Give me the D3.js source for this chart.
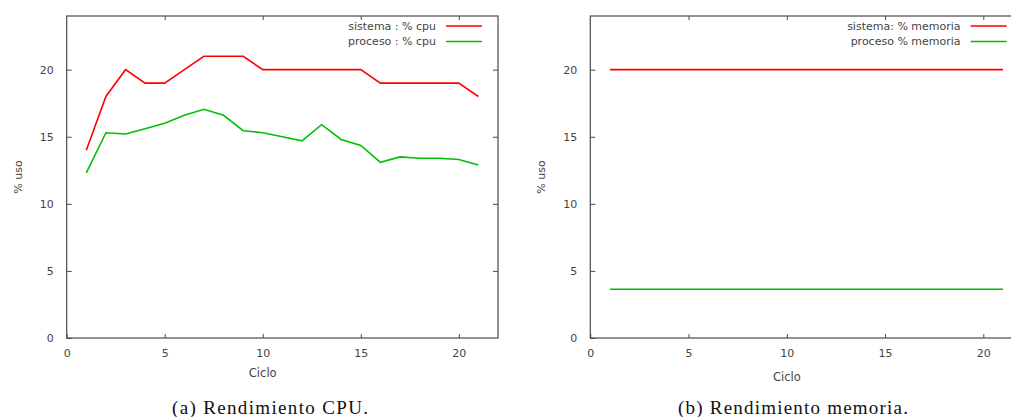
<!DOCTYPE html>
<html>
<head>
<meta charset="utf-8">
<script src="https://cdn.jsdelivr.net/npm/d3@7"></script>
<style>
  body { margin: 0; background: #fff; }
  svg text { font-family: "DejaVu Sans", sans-serif; }
</style>
</head>
<body>
<svg id="chart" width="1011" height="417"></svg>
<script>
// ciclos medidos
const ciclos = [1, 2, 3, 4, 5, 6, 7, 8, 9, 10, 11, 12, 13, 14, 15, 16, 17, 18, 19, 20, 21];

// rendimiento cpu
const sistemaCpu = [14, 18, 20, 19, 19, 20, 21, 21, 21, 20, 20, 20, 20, 20, 20, 19, 19, 19, 19, 19, 18];
const procesoCpu = [12.3, 15.3, 15.2, 15.6, 16.0, 16.6, 17.05, 16.6, 15.45, 15.3, 15.0, 14.7, 15.9, 14.8, 14.35, 13.1, 13.5, 13.4, 13.4, 13.3, 12.9];

// rendimiento memoria
const sistemaMem = [20, 20, 20, 20, 20, 20, 20, 20, 20, 20, 20, 20, 20, 20, 20, 20, 20, 20, 20, 20, 20];
const procesoMem = [3.63, 3.63, 3.63, 3.63, 3.63, 3.63, 3.63, 3.63, 3.63, 3.63, 3.63, 3.63, 3.63, 3.63, 3.63, 3.63, 3.63, 3.63, 3.63, 3.63, 3.63];

const xTicks = [0, 5, 10, 15, 20];
const yTicks = [0, 5, 10, 15, 20];

const svg = d3.select("#chart");
const frameColor = "#4a4a4a";
const textColor = "#444";
const plotTop = 16, plotBottom = 338;

function drawPanel(p) {
  const x = d3.scaleLinear().domain([0, 22]).range([p.left, p.right]);
  const y = d3.scaleLinear().domain([0, 24]).range([plotBottom, plotTop]);
  const g = svg.append("g");

  // ticks hacia dentro, estilo gnuplot
  const axes = [
    [d3.axisBottom(x).tickValues(xTicks).tickSize(-4).tickPadding(11), `translate(0,${plotBottom})`],
    [d3.axisTop(x).tickValues(xTicks.slice(1)).tickSize(-4).tickFormat(""), `translate(0,${plotTop})`],
    [d3.axisLeft(y).tickValues(yTicks).tickSize(-5).tickPadding(13), `translate(${p.left},0)`],
    [d3.axisRight(y).tickValues(yTicks.slice(1)).tickSize(-5).tickFormat(""), `translate(${p.right},0)`]
  ];
  axes.forEach(([axis, tr]) => {
    const a = g.append("g").attr("transform", tr).call(axis);
    a.select(".domain").remove();
    a.selectAll("line").attr("stroke", frameColor);
    a.selectAll("text").attr("fill", textColor).style("font-size", "11px")
      .style("font-family", "DejaVu Sans, sans-serif");
  });

  g.append("rect")
    .attr("x", p.left).attr("y", plotTop)
    .attr("width", p.right - p.left).attr("height", plotBottom - plotTop)
    .attr("fill", "none").attr("stroke", frameColor).attr("stroke-width", 1.2);

  const line = d3.line().x((d, i) => x(ciclos[i])).y(d => y(d));
  p.series.forEach(s => {
    g.append("path").datum(s.values)
      .attr("d", line)
      .attr("fill", "none")
      .attr("stroke", s.color)
      .attr("stroke-width", 1.6);
  });

  // leyenda
  p.series.forEach((s, i) => {
    const ly = 26 + i * 15.5;
    g.append("text")
      .attr("x", p.right - 62).attr("y", ly).attr("dy", "0.35em")
      .attr("text-anchor", "end")
      .attr("fill", textColor).style("font-size", "11px")
      .text(s.label);
    g.append("line")
      .attr("x1", p.right - 52).attr("x2", p.right - 16)
      .attr("y1", ly).attr("y2", ly)
      .attr("stroke", s.color).attr("stroke-width", 1.6);
  });

  g.append("text")
    .attr("transform", `translate(${p.left - 49},${(plotTop + plotBottom) / 2}) rotate(-90)`)
    .attr("text-anchor", "middle").attr("dy", "0.35em")
    .attr("fill", textColor).style("font-size", "11px")
    .text("% uso");

  g.append("text")
    .attr("x", x(10)).attr("y", p.xLabelY).attr("dy", "0.35em")
    .attr("text-anchor", "middle")
    .attr("fill", textColor).style("font-size", "11.5px")
    .text("Ciclo");

  g.append("text")
    .attr("x", p.captionX).attr("y", 407).attr("dy", "0.35em")
    .attr("text-anchor", "middle")
    .attr("fill", "#111")
    .attr("textLength", p.captionW).attr("lengthAdjust", "spacing")
    .style("font-family", "Liberation Serif, serif").style("font-size", "19px")
    .text(p.caption);
}

drawPanel({
  left: 66.7, right: 498, xLabelY: 372.5,
  captionX: 270, captionW: 196, caption: "(a) Rendimiento CPU.",
  series: [
    { label: "sistema : % cpu", color: "#ff0000", values: sistemaCpu },
    { label: "proceso : % cpu", color: "#00c000", values: procesoCpu }
  ]
});

drawPanel({
  left: 590.3, right: 1022.6, xLabelY: 376.5,
  captionX: 793, captionW: 230, caption: "(b) Rendimiento memoria.",
  series: [
    { label: "sistema: % memoria", color: "#ff0000", values: sistemaMem },
    { label: "proceso % memoria", color: "#00c000", values: procesoMem }
  ]
});
</script>
</body>
</html>
